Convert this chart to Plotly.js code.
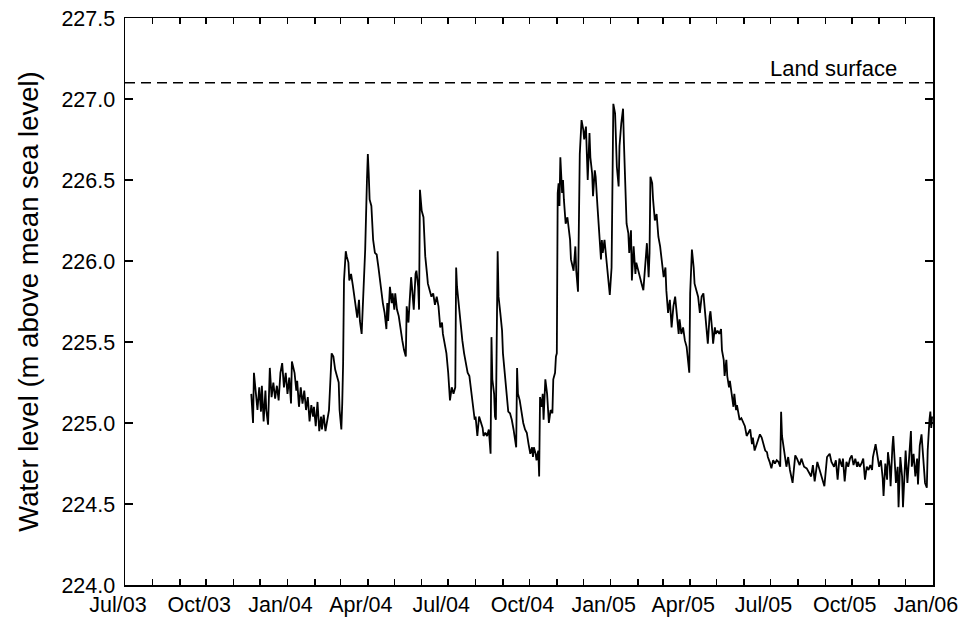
<!DOCTYPE html>
<html>
<head>
<meta charset="utf-8">
<script src="https://cdn.plot.ly/plotly-3.0.1.min.js"></script>
<style>
  html, body { margin: 0; padding: 0; background: #fff; }
  #chart { width: 966px; height: 624px; }
</style>
</head>
<body>
<div id="chart"></div>
<script>
const dates = [
"2003-11-21","2003-11-23","2003-11-24","2003-11-26","2003-11-28","2003-11-30","2003-12-02","2003-12-03","2003-12-05","2003-12-07",
"2003-12-08","2003-12-10","2003-12-12","2003-12-14","2003-12-16","2003-12-18","2003-12-20","2003-12-22","2003-12-24","2003-12-26",
"2003-12-28","2003-12-30","2004-01-01","2004-01-03","2004-01-05","2004-01-06","2004-01-09","2004-01-11","2004-01-12","2004-01-14",
"2004-01-16","2004-01-18","2004-01-20","2004-01-22","2004-01-24","2004-01-26","2004-01-28","2004-01-30","2004-01-31","2004-02-02",
"2004-02-04","2004-02-06","2004-02-08","2004-02-09","2004-02-11","2004-02-13","2004-02-15","2004-02-17","2004-02-19","2004-02-20",
"2004-02-22","2004-02-24","2004-02-26","2004-02-28","2004-02-29","2004-03-02","2004-03-03","2004-03-04","2004-03-05","2004-03-07",
"2004-03-08","2004-03-10","2004-03-11","2004-03-13","2004-03-15","2004-03-17","2004-03-19","2004-03-20","2004-03-22","2004-03-23",
"2004-03-25","2004-03-27","2004-03-29","2004-03-31","2004-04-01","2004-04-02","2004-04-03","2004-04-05","2004-04-07","2004-04-09",
"2004-04-11","2004-04-13","2004-04-15","2004-04-17","2004-04-18","2004-04-20","2004-04-22","2004-04-23","2004-04-24","2004-04-26",
"2004-04-28","2004-04-29","2004-05-01","2004-05-02","2004-05-04","2004-05-06","2004-05-08","2004-05-10","2004-05-12","2004-05-14",
"2004-05-15","2004-05-17","2004-05-18","2004-05-20","2004-05-21","2004-05-23","2004-05-25","2004-05-26","2004-05-28","2004-05-29",
"2004-05-30","2004-06-01","2004-06-03","2004-06-05","2004-06-07","2004-06-08","2004-06-10","2004-06-12","2004-06-14","2004-06-16",
"2004-06-18","2004-06-20","2004-06-22","2004-06-24","2004-06-25","2004-06-27","2004-06-29","2004-07-01","2004-07-03","2004-07-05",
"2004-07-07","2004-07-09","2004-07-10","2004-07-11","2004-07-13","2004-07-15","2004-07-17","2004-07-19","2004-07-21","2004-07-23",
"2004-07-25","2004-07-27","2004-07-29","2004-07-31","2004-08-01","2004-08-03","2004-08-05","2004-08-07","2004-08-09","2004-08-10",
"2004-08-12","2004-08-14","2004-08-16","2004-08-18","2004-08-19","2004-08-20","2004-08-22","2004-08-23","2004-08-24","2004-08-26",
"2004-08-27","2004-08-29","2004-08-31","2004-09-01","2004-09-03","2004-09-05","2004-09-07","2004-09-09","2004-09-11","2004-09-13",
"2004-09-15","2004-09-16","2004-09-17","2004-09-18","2004-09-20","2004-09-22","2004-09-24","2004-09-26","2004-09-28","2004-09-30",
"2004-10-02","2004-10-04","2004-10-05","2004-10-06","2004-10-08","2004-10-09","2004-10-11","2004-10-12","2004-10-13","2004-10-15",
"2004-10-16","2004-10-17","2004-10-19","2004-10-21","2004-10-22","2004-10-23","2004-10-25","2004-10-27","2004-10-28","2004-10-30",
"2004-10-31","2004-11-01","2004-11-02","2004-11-03","2004-11-04","2004-11-05","2004-11-07","2004-11-08","2004-11-09","2004-11-11",
"2004-11-13","2004-11-14","2004-11-16","2004-11-17","2004-11-20","2004-11-22","2004-11-23","2004-11-25","2004-11-26","2004-11-27",
"2004-11-29","2004-12-01","2004-12-02","2004-12-04","2004-12-05","2004-12-06","2004-12-08","2004-12-09","2004-12-11","2004-12-12",
"2004-12-14","2004-12-15","2004-12-17","2004-12-19","2004-12-21","2004-12-22","2004-12-23","2004-12-25","2004-12-27","2004-12-29",
"2004-12-30","2004-12-31","2005-01-02","2005-01-03","2005-01-04","2005-01-06","2005-01-07","2005-01-08","2005-01-10","2005-01-11",
"2005-01-13","2005-01-15","2005-01-16","2005-01-17","2005-01-19","2005-01-21","2005-01-22","2005-01-24","2005-01-25","2005-01-27",
"2005-01-29","2005-01-30","2005-02-01","2005-02-03","2005-02-05","2005-02-07","2005-02-09","2005-02-11","2005-02-13","2005-02-14",
"2005-02-15","2005-02-17","2005-02-18","2005-02-20","2005-02-22","2005-02-24","2005-02-26","2005-02-28","2005-03-02","2005-03-04",
"2005-03-05","2005-03-07","2005-03-09","2005-03-11","2005-03-13","2005-03-15","2005-03-17","2005-03-19","2005-03-20","2005-03-22",
"2005-03-24","2005-03-26","2005-03-28","2005-03-30","2005-03-31","2005-04-01","2005-04-03","2005-04-05","2005-04-06","2005-04-08",
"2005-04-10","2005-04-12","2005-04-14","2005-04-16","2005-04-18","2005-04-20","2005-04-21","2005-04-23","2005-04-24","2005-04-26",
"2005-04-27","2005-04-29","2005-04-30","2005-05-02","2005-05-04","2005-05-06","2005-05-07","2005-05-09","2005-05-10","2005-05-12",
"2005-05-13","2005-05-15","2005-05-16","2005-05-18","2005-05-20","2005-05-21","2005-05-23","2005-05-24","2005-05-26","2005-05-27",
"2005-05-29","2005-05-31","2005-06-02","2005-06-04","2005-06-06","2005-06-08","2005-06-10","2005-06-11","2005-06-13","2005-06-15",
"2005-06-17","2005-06-19","2005-06-21","2005-06-23","2005-06-25","2005-06-27","2005-06-28","2005-06-30","2005-07-02","2005-07-04",
"2005-07-06","2005-07-08","2005-07-10","2005-07-12","2005-07-13","2005-07-14","2005-07-16","2005-07-18","2005-07-19","2005-07-21",
"2005-07-23","2005-07-26","2005-07-29","2005-07-31","2005-08-03","2005-08-05","2005-08-08","2005-08-11","2005-08-13","2005-08-16",
"2005-08-18","2005-08-20","2005-08-23","2005-08-25","2005-08-28","2005-08-31","2005-09-03","2005-09-06","2005-09-08","2005-09-11",
"2005-09-13","2005-09-15","2005-09-17","2005-09-20","2005-09-21","2005-09-23","2005-09-25","2005-09-27","2005-09-29","2005-10-01",
"2005-10-03","2005-10-05","2005-10-07","2005-10-08","2005-10-10","2005-10-12","2005-10-14","2005-10-16","2005-10-18","2005-10-20",
"2005-10-22","2005-10-24","2005-10-25","2005-10-28","2005-10-30","2005-11-01","2005-11-03","2005-11-05","2005-11-06","2005-11-08",
"2005-11-10","2005-11-11","2005-11-13","2005-11-14","2005-11-16","2005-11-17","2005-11-19","2005-11-20","2005-11-22","2005-11-23",
"2005-11-25","2005-11-27","2005-11-28","2005-11-30","2005-12-01","2005-12-03","2005-12-05","2005-12-07","2005-12-08","2005-12-10",
"2005-12-12","2005-12-14","2005-12-15","2005-12-17","2005-12-19","2005-12-21","2005-12-23","2005-12-25","2005-12-26","2005-12-28",
"2005-12-29","2005-12-30","2005-12-31"
];

// Water level (m above mean sea level)
const levels = [
225.18,225.00,225.31,225.19,225.08,225.22,225.07,225.23,225.01,225.20,
225.08,224.99,225.34,225.16,225.25,225.15,225.23,225.14,225.31,225.37,
225.22,225.31,225.18,225.28,225.12,225.38,225.31,225.20,225.26,225.10,
225.22,225.12,225.20,225.08,225.16,225.01,225.11,225.04,225.10,224.98,
225.13,224.95,225.04,224.96,225.05,224.95,225.02,225.08,225.31,225.43,
225.41,225.33,225.29,225.25,225.08,224.96,225.12,225.37,225.88,226.06,
226.03,225.99,225.88,225.92,225.85,225.76,225.70,225.65,225.76,225.63,
225.55,225.81,226.07,226.50,226.66,226.54,226.38,226.34,226.13,226.05,
226.04,225.96,225.86,225.78,225.74,225.68,225.58,225.74,225.63,225.84,
225.74,225.80,225.70,225.80,225.70,225.66,225.57,225.51,225.45,225.41,
225.72,225.62,225.72,225.90,225.84,225.70,225.92,225.94,225.84,225.70,
226.44,226.31,226.27,226.03,225.92,225.86,225.82,225.78,225.80,225.73,
225.78,225.72,225.59,225.62,225.55,225.49,225.43,225.31,225.14,225.22,
225.18,225.22,225.96,225.84,225.72,225.64,225.51,225.43,225.37,225.31,
225.29,225.19,225.08,225.02,225.04,224.92,225.04,225.00,224.97,224.92,
224.94,224.92,224.96,224.81,225.53,225.27,225.18,225.04,225.02,226.06,
225.78,225.68,225.57,225.43,225.31,225.18,225.07,225.06,225.02,224.96,
224.90,224.85,225.34,225.18,225.14,225.06,225.00,224.96,224.94,224.87,
224.81,224.85,224.79,224.85,224.81,224.77,224.83,224.67,225.16,225.10,
225.18,225.02,225.27,225.18,225.08,225.00,225.08,225.06,225.27,225.31,
225.41,225.43,226.42,226.48,226.34,226.64,226.42,226.50,226.38,226.23,
226.27,226.23,226.13,226.01,225.94,226.09,225.94,225.81,226.21,226.66,
226.87,226.81,226.75,226.83,226.66,226.50,226.79,226.64,226.54,226.40,
226.56,226.52,226.34,226.17,226.01,226.13,226.05,226.13,226.01,225.92,
225.86,225.79,225.96,226.40,226.97,226.91,226.71,226.58,226.46,226.71,
226.85,226.94,226.73,226.58,226.23,226.17,226.05,226.19,225.88,226.09,
225.92,225.99,225.94,225.90,225.86,225.82,225.96,226.11,225.90,226.05,
226.52,226.48,226.38,226.25,226.29,226.15,226.09,226.01,225.90,225.96,
225.82,225.68,225.76,225.59,225.72,225.78,225.68,225.55,225.64,225.55,
225.59,225.51,225.47,225.37,225.31,225.80,226.07,225.96,225.86,225.82,
225.78,225.68,225.78,225.80,225.66,225.57,225.49,225.66,225.69,225.57,
225.49,225.59,225.55,225.57,225.55,225.58,225.45,225.39,225.29,225.39,
225.29,225.22,225.26,225.18,225.10,225.18,225.08,225.11,225.04,225.02,
225.03,225.00,224.98,224.92,224.94,224.96,224.87,224.91,224.83,224.86,
224.90,224.93,224.91,224.87,224.83,224.82,224.79,224.76,224.72,224.77,
224.75,224.77,224.76,224.73,225.07,224.92,224.83,224.75,224.73,224.79,
224.71,224.63,224.80,224.78,224.74,224.78,224.73,224.72,224.70,224.67,
224.74,224.64,224.76,224.72,224.67,224.61,224.79,224.81,224.76,224.73,
224.77,224.65,224.78,224.73,224.78,224.64,224.76,224.73,224.78,224.80,
224.74,224.78,224.73,224.76,224.73,224.75,224.78,224.65,224.73,224.71,
224.74,224.71,224.79,224.87,224.80,224.73,224.77,224.66,224.55,224.75,
224.65,224.82,224.73,224.61,224.85,224.92,224.73,224.63,224.73,224.48,
224.79,224.67,224.48,224.73,224.83,224.63,224.77,224.95,224.73,224.81,
224.67,224.78,224.62,224.86,224.93,224.78,224.63,224.60,224.83,225.02,
225.07,224.97,225.04
];

// Reference level
const landSurfaceLevel = 227.1;
const landSurfaceLabel = "Land surface";

// Axis settings
const xRange = ["2003-07-01", "2006-01-01"];
const yRange = [224.0, 227.5];
const yTitle = "Water level (m above mean sea level)";

const FONT = "Liberation Sans, Arial, sans-serif";

const trace = {
  type: "scatter",
  mode: "lines",
  x: dates,
  y: levels,
  line: { color: "#000000", width: 1.8 },
  hoverinfo: "x+y",
  showlegend: false
};

const layout = {
  width: 966,
  height: 624,
  margin: { l: 125, r: 33, t: 18, b: 39, pad: 0 },
  paper_bgcolor: "#ffffff",
  plot_bgcolor: "#ffffff",
  font: { family: FONT, size: 21.5, color: "#000000" },
  showlegend: false,
  xaxis: {
    type: "date",
    range: xRange,
    tick0: "2003-07-01",
    dtick: "M3",
    tickformat: "%b/%y",
    ticks: "inside",
    ticklen: 6,
    tickwidth: 1.5,
    tickcolor: "#000",
    ticklabelshift: -7,
    minor: { dtick: "M1", ticks: "inside", ticklen: 6, tickwidth: 1.5, tickcolor: "#000", showgrid: false },
    showline: true,
    linecolor: "#000",
    linewidth: 1.5,
    mirror: "ticks",
    showgrid: false,
    zeroline: false,
    automargin: false,
    tickfont: { family: FONT, size: 21.5, color: "#000" }
  },
  yaxis: {
    range: yRange,
    dtick: 0.5,
    tick0: 224,
    tickformat: ".1f",
    ticks: "inside",
    ticklen: 8,
    tickwidth: 1.5,
    tickcolor: "#000",
    showline: true,
    linecolor: "#000",
    linewidth: 1.5,
    mirror: "ticks",
    showgrid: false,
    zeroline: false,
    automargin: false,
    ticklabelstandoff: 4,
    tickfont: { family: FONT, size: 21.5, color: "#000" },
    title: { text: yTitle, font: { family: FONT, size: 27.5, color: "#000" }, standoff: 15 }
  },
  shapes: [{
    type: "line",
    xref: "paper", yref: "y",
    x0: 0, x1: 1,
    y0: landSurfaceLevel, y1: landSurfaceLevel,
    line: { color: "#000", width: 1.5, dash: "10px,6px" }
  }],
  annotations: [{
    xref: "x", yref: "y",
    x: "2005-09-10", y: landSurfaceLevel,
    text: landSurfaceLabel,
    showarrow: false,
    yanchor: "bottom",
    xanchor: "center",
    yshift: 0,
    font: { family: FONT, size: 22, color: "#000" }
  }]
};

Plotly.newPlot("chart", [trace], layout, { displayModeBar: false, staticPlot: true });
</script>
</body>
</html>
